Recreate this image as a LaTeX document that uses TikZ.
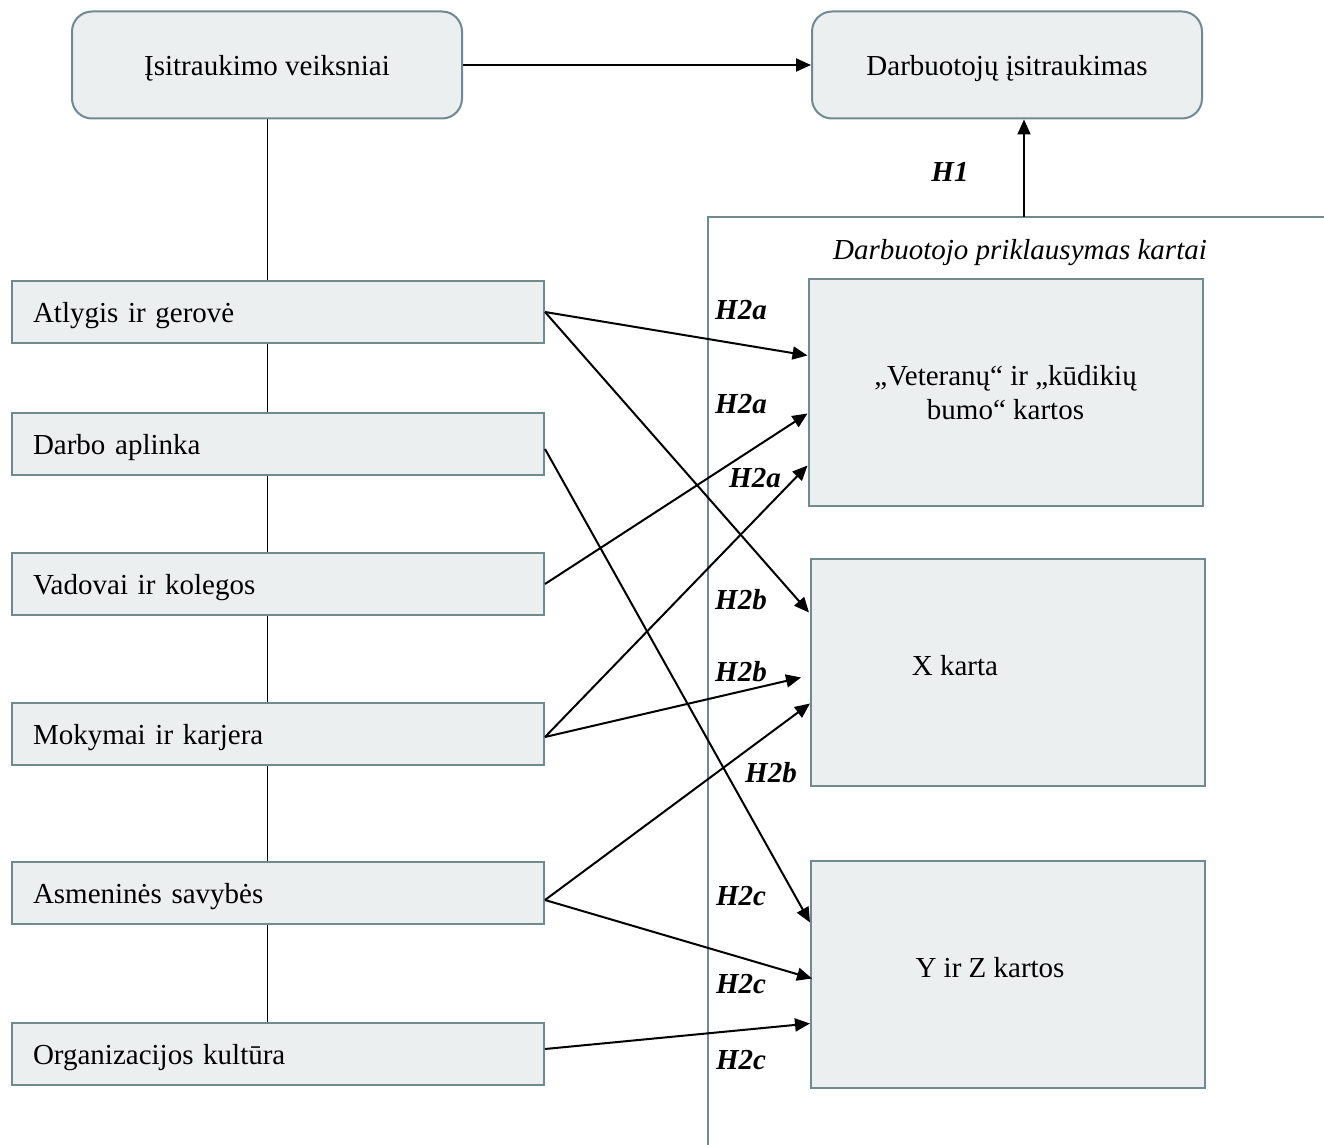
\documentclass[tikz,border=0pt]{standalone}
\usepackage{fontspec}
\setmainfont{Liberation Serif}
\usepackage{tikz}
\usetikzlibrary{arrows.meta,calc,backgrounds}
\definecolor{boxline}{RGB}{112,138,145}
\definecolor{boxfill}{RGB}{236,239,240}

\begin{document}
\begin{tikzpicture}[x=0.5pt,y=-0.5pt,>={Triangle[length=7.5pt,width=6.5pt]},
  font=\fontsize{14.5}{17}\selectfont]
  \tikzstyle{top box}=[rectangle,rounded corners=10pt,draw=boxline,fill=boxfill,
  			line width=1pt,minimum width=195pt,minimum height=53.5pt,
  			text height=12pt,text depth=1.3pt]
  \tikzstyle{factor}=[rectangle,draw=boxline,fill=boxfill,line width=1pt,
  			minimum height=31pt,inner xsep=10.5pt,text width=245pt,align=left,
  			text height=12pt,text depth=1.3pt]
  \tikzstyle{gen}=[rectangle,draw=boxline,fill=boxfill,line width=1pt,
  			minimum width=197pt,minimum height=113.5pt,align=center]
  \tikzstyle{hyp}=[font=\fontsize{14.5}{17}\selectfont\bfseries\itshape]
  \tikzstyle{link}=[->,line width=1pt]
  \useasboundingbox (0,0) rectangle (1324,1145);
  % upper row
  \node [top box] (veiks) at (267,65) {Įsitraukimo veiksniai};
  \node [top box] (isitr) at (1007,65) {Darbuotojų įsitraukimas};
  \draw [link] (veiks) -- (isitr);
  % factors
  \node [factor] (atl)    at (278,312)  {Atlygis ir gerovė};
  \node [factor] (aplink) at (278,444)  {Darbo aplinka};
  \node [factor] (vad)    at (278,584)  {Vadovai ir kolegos};
  \node [factor] (mok)    at (278,734)  {Mokymai ir karjera};
  \node [factor] (asm)    at (278,893)  {Asmeninės savybės};
  \node [factor] (kult)   at (278,1054) {Organizacijos kultūra};
  \begin{scope}[on background layer]
    \draw [line width=0.5pt] (veiks.south) -- (veiks.south |- kult.north);
  \end{scope}
  % generations
  \coordinate (frametop) at (1024,217);
  \draw [draw=boxline,line width=1pt] (708,1145) -- (708,217) -- (1324,217);
  \node [font=\fontsize{14.5}{17}\selectfont\itshape] (prikl) at (1020,253)
    {Darbuotojo priklausymas kartai};
  \draw [link] (frametop) -- (frametop |- isitr.south);
  \node [hyp] (h1) at (950,172) {H1};
  \node [gen] (vet) at (1005.5,392.5) {„Veteranų“ ir „kūdikių\\bumo“ kartos};
  \node [gen] (xk)  at (1008,672.5) {};
  \node at ($(xk)+(-53,-7)$) {X karta};
  \node [gen] (yz)  at (1008,974.5) {};
  \node at ($(yz)+(-18,-7)$) {Y ir Z kartos};
  % hypotheses
  \draw [link] (atl.east) -- ($(vet.west)+(0,-37)$);
  \draw [link] (atl.east) -- ($(xk.west)+(-1,-60)$);
  \draw [link] ($(aplink.east)+(0,5)$) -- ($(yz.west)+(0,-52)$);
  \draw [link] (vad.east) -- ($(vet.west)+(0,21)$);
  \draw [link] ($(mok.east)+(0,3)$) -- ($(vet.west)+(0,73)$);
  \draw [link] ($(mok.east)+(0,3)$) -- ($(xk.west)+(-9,5)$);
  \draw [link] ($(asm.east)+(0,7)$) -- ($(xk.west)+(0,31)$);
  \draw [link] ($(asm.east)+(0,7)$) -- ($(yz.west)+(2,4)$);
  \draw [link] ($(kult.east)+(0,-5)$) -- ($(yz.west)+(0,49)$);
  \node [hyp] at (741,310)  {H2a};
  \node [hyp] at (741,404)  {H2a};
  \node [hyp] at (755,478)  {H2a};
  \node [hyp] at (741,600)  {H2b};
  \node [hyp] at (741,672)  {H2b};
  \node [hyp] at (771,773)  {H2b};
  \node [hyp] at (741,896)  {H2c};
  \node [hyp] at (741,984)  {H2c};
  \node [hyp] at (741,1060) {H2c};
\end{tikzpicture}
\end{document}
